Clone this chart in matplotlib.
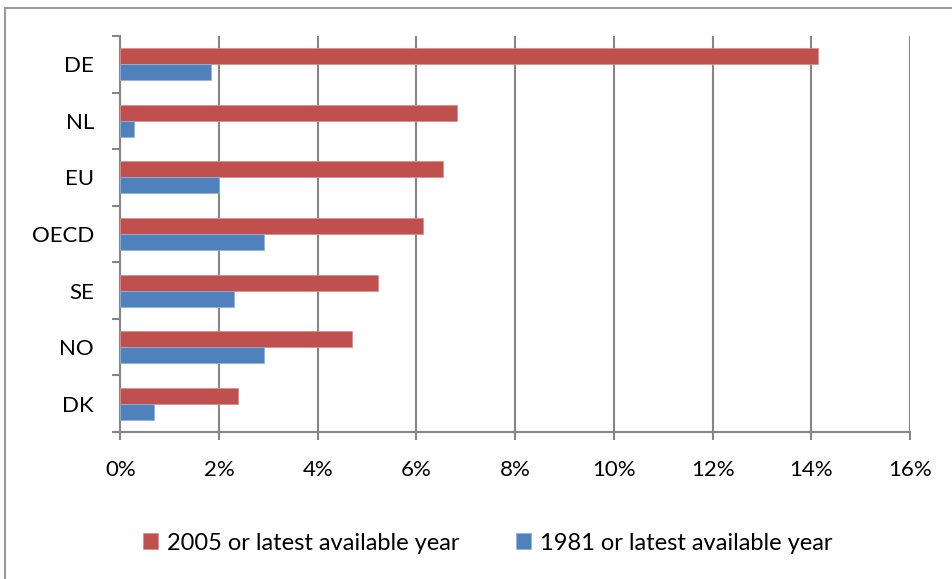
import matplotlib
matplotlib.use("Agg")
import matplotlib.pyplot as plt
from matplotlib.patches import Rectangle
import numpy as np

plt.rcParams['font.family'] = ['Lato', 'DejaVu Sans']

countries = ["DE", "NL", "EU", "OECD", "SE", "NO", "DK"]
share_2005 = [14.14, 6.82, 6.54, 6.13, 5.23, 4.70, 2.39]
share_1981 = [1.83, 0.28, 1.99, 2.92, 2.31, 2.92, 0.69]
series_labels = ["2005 or latest available year", "1981 or latest available year"]
xticks = [0, 2, 4, 6, 8, 10, 12, 14, 16]
xtick_labels = ["0%", "2%", "4%", "6%", "8%", "10%", "12%", "14%", "16%"]

RED = "#C0504D"
BLUE = "#4F81BD"
GRID = "#868686"
FS = 16
LEG_FS = 17

fig = plt.figure(figsize=(9.52, 5.79), dpi=100)
W, H = 952, 579

# chart frame
fig.patches.append(Rectangle((5 / W, -0.05), 1.1, 1 - 8 / H + 0.05,
                             transform=fig.transFigure, fill=False,
                             edgecolor="#9a9a9a", linewidth=1.5))

ax = fig.add_axes([120.3 / W, 1 - 432 / H, (910 - 120.3) / W, (432 - 36) / H])

y = np.arange(len(countries))
h = 0.283
ax.barh(y - h / 2, share_2005, height=h, color=RED, edgecolor="#d9908e",
        linewidth=0.6, label=series_labels[0], zorder=3)
ax.barh(y + h / 2, share_1981, height=h, color=BLUE, edgecolor="#93b1d8",
        linewidth=0.6, label=series_labels[1], zorder=3)

ax.set_xlim(0, 16)
ax.set_ylim(len(countries) - 0.5, -0.5)

ax.set_xticks(xticks)
ax.set_xticklabels(xtick_labels, fontsize=FS)
ax.set_yticks(np.arange(len(countries) + 1) - 0.5, minor=False)
ax.set_yticklabels([""] * (len(countries) + 1))
ax.set_yticks(y, minor=True)
ax.set_yticklabels(countries, minor=True, fontsize=FS)
ax.tick_params(axis="y", which="minor", length=0, pad=19)
ax.tick_params(axis="y", which="major", length=6, width=1.5, color=GRID)
ax.tick_params(axis="x", length=6, width=1.5, color=GRID, pad=14)

ax.grid(axis="x", color=GRID, linewidth=1.5, zorder=0)
for s in ["top", "right"]:
    ax.spines[s].set_visible(False)
for s in ["left", "bottom"]:
    ax.spines[s].set_color(GRID)
    ax.spines[s].set_linewidth(1.5)
ax.set_axisbelow(True)

handles, labels = ax.get_legend_handles_labels()
fig.legend(handles, labels, loc="center", bbox_to_anchor=(488 / W, 1 - 543 / H),
           ncol=2, frameon=False, fontsize=LEG_FS, handlelength=0.64,
           handleheight=0.68, handletextpad=0.38, columnspacing=2.4)

fig.savefig("out.png", dpi=100)
